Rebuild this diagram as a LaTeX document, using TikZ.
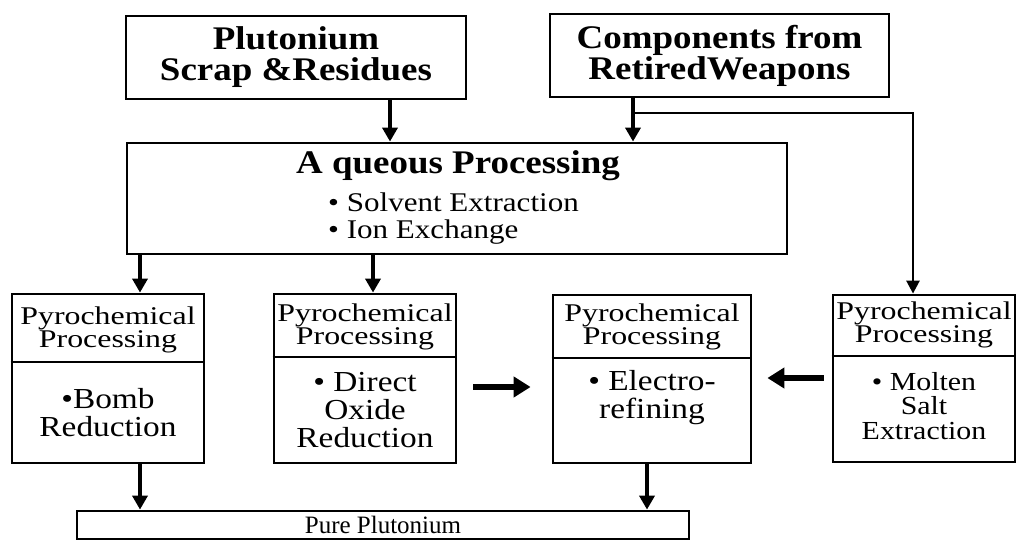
\documentclass[tikz,border=0pt]{standalone}
\usepackage{fontspec}
\setmainfont{Liberation Serif}
\newfontfamily\widefont[FakeStretch=1.12]{Liberation Serif}
\newfontfamily\bulfont[FakeStretch=1.15]{Liberation Serif}
\newfontfamily\widerfont[FakeStretch=1.25]{Liberation Serif}
\newfontfamily\bodyfont[FakeStretch=1.15]{Liberation Serif}
\usetikzlibrary{arrows.meta}
\begin{document}
\begin{tikzpicture}[x=1pt,y=-1pt,
  box/.style={draw, line width=2.8pt, inner sep=0pt, align=center},
  titletext/.style={font=\widefont\bfseries\fontsize{33}{31}\selectfont, align=center},
  bultext/.style={font=\bulfont\fontsize{27}{27}\selectfont, align=left, inner sep=0pt},
  headtext/.style={font=\widerfont\fontsize{25.5}{23}\selectfont, align=center, inner sep=0pt},
  bodytext/.style={font=\bodyfont\fontsize{29}{28}\selectfont, align=center, inner sep=0pt},
  divline/.style={line width=2pt},
  varr/.style={line width=4.5pt, -{Triangle[length=14pt,width=15pt]}},
  harr/.style={line width=6pt, -{Triangle[length=17pt,width=20pt]}},
  branch/.style={line width=2.6pt, -{Triangle[length=13pt,width=13pt]}}
]
\useasboundingbox (0,0) rectangle (1019,540);

% top sources
\node[box, titletext, minimum width=340pt, minimum height=83pt] (src1) at (296,57.5) {Plutonium\\Scrap \&Residues};
\node[box, titletext, minimum width=339pt, minimum height=83pt] (src2) at (719.5,55.5) {Components from\\RetiredWeapons};

% aqueous processing
\node[box, minimum width=660pt, minimum height=111pt] (aq) at (457,198.5) {};
\node[titletext, inner sep=0pt] (aqt) at (458,166) {A queous Processing};
\node[bultext, anchor=west] (aqb) at (328,219) {\textbullet\ Solvent Extraction\\\textbullet\ Ion Exchange};

% pyrochemical boxes
\node[box, minimum width=192pt, minimum height=169pt] (pA) at (108,378.5) {};
\draw[divline] ([yshift=-69pt]pA.north west) -- ([yshift=-69pt]pA.north east);
\node[headtext] (pAh) at (108,330) {Pyrochemical\\Processing};
\node[bodytext] (pAb) at (108,413) {\textbullet Bomb\\Reduction};

\node[box, minimum width=182pt, minimum height=169pt] (pB) at (365,378.5) {};
\draw[divline] ([yshift=-64pt]pB.north west) -- ([yshift=-64pt]pB.north east);
\node[headtext] (pBh) at (365,327) {Pyrochemical\\Processing};
\node[bodytext] (pBb) at (365,410) {\textbullet\ Direct\\Oxide\\Reduction};

\node[box, minimum width=198pt, minimum height=168pt] (pC) at (652,379) {};
\draw[divline] ([yshift=-64pt]pC.north west) -- ([yshift=-64pt]pC.north east);
\node[headtext] (pCh) at (652,327) {Pyrochemical\\Processing};
\node[bodytext] (pCb) at (652,398) {\textbullet\ Electro-\\refining};

\node[box, minimum width=182pt, minimum height=167pt] (pD) at (924,378.5) {};
\draw[divline] ([yshift=-62pt]pD.north west) -- ([yshift=-62pt]pD.north east);
\node[headtext] (pDh) at (924,325) {Pyrochemical\\Processing};
\node[bodytext, font=\bodyfont\fontsize{26}{24.5}\selectfont] (pDb) at (924,406) {\textbullet\ Molten\\Salt\\Extraction};

% product
\node[box, minimum width=612pt, minimum height=28pt, font=\fontsize{25}{25}\selectfont] (pure) at (383,525) {Pure Plutonium};

% x / y positions of connectors
\coordinate (c1) at (390,0);
\coordinate (c2) at (633,0);
\coordinate (c3) at (913,0);
\coordinate (c4) at (140,0);
\coordinate (c5) at (373,0);
\coordinate (c6) at (647,0);
\coordinate (br) at (633,113);
\coordinate (hy1) at (0,387);
\coordinate (hy2) at (0,378);

\draw[varr] (src1.south -| c1) -- (aq.north -| c1);
\draw[varr] (src2.south -| c2) -- (aq.north -| c2);
\draw[branch] (br) -| (pD.north -| c3);
\draw[varr] (aq.south -| c4) -- (pA.north -| c4);
\draw[varr] (aq.south -| c5) -- (pB.north -| c5);
\draw[harr, shorten <=16pt, shorten >=21pt] (pB.east |- hy1) -- (pC.west |- hy1);
\draw[harr, shorten <=8pt, shorten >=15pt] (pD.west |- hy2) -- (pC.east |- hy2);
\draw[varr] (pA.south -| c4) -- (pure.north -| c4);
\draw[varr] (pC.south -| c6) -- (pure.north -| c6);
\end{tikzpicture}
\end{document}
